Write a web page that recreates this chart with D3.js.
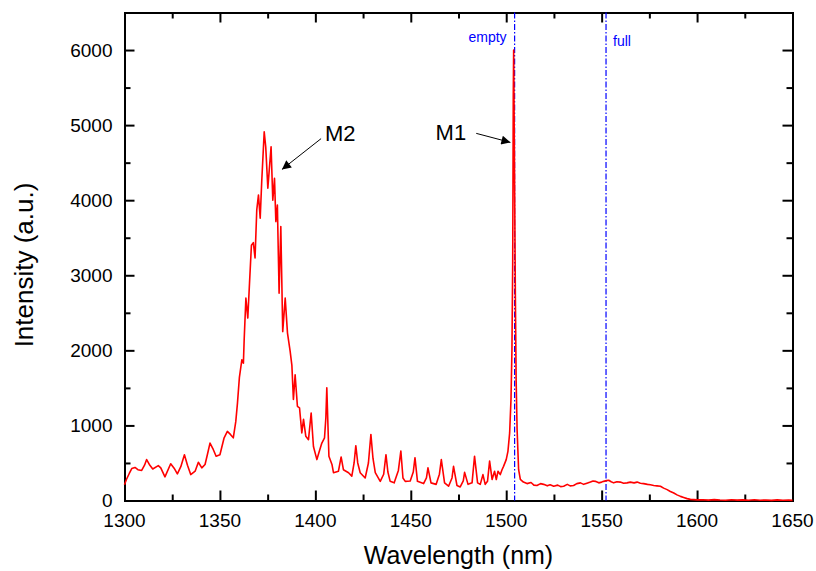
<!DOCTYPE html>
<html>
<head>
<meta charset="utf-8">
<script src="https://cdn.jsdelivr.net/npm/d3@7"></script>
<style>
  body { margin: 0; background: #fff; }
  svg { display: block; font-family: "Liberation Sans", Arial, sans-serif; }
</style>
</head>
<body>
<div id="chart"></div>
<script>
var wavelength = [
  1300, 1301, 1302.5, 1303.8, 1305.5, 1307, 1309, 1310.5, 1311.6, 1313, 1314.8, 1317.7, 1319,
  1321.2, 1324.2, 1326, 1327.7, 1329.5, 1331.4, 1333, 1334.7, 1337, 1338.7, 1340.5, 1342.2,
  1343.5, 1344.8, 1346.5, 1348, 1350, 1352.2, 1353.9, 1355.5, 1357, 1358.3, 1359.2, 1360.2,
  1361.5, 1362.3, 1362.7, 1363.6, 1364.6, 1365.5, 1366.5, 1367.5, 1368.4, 1369.3, 1370.2,
  1371.1, 1371.9, 1373.2, 1374, 1375.1, 1376.8, 1377.7, 1378.6, 1379.3, 1380.1, 1381, 1381.9,
  1382.9, 1384.2, 1385.4, 1386.8, 1387.7, 1388.5, 1389.4, 1390.6, 1391.7, 1392.9, 1393.8,
  1395, 1396.4, 1397.8, 1399, 1400.8, 1402, 1403.4, 1404.8, 1405.5, 1406, 1406.6, 1407.1,
  1408.7, 1409.5, 1412.1, 1413.5, 1414.7, 1417.4, 1419.1, 1420.3, 1421.2, 1422.2, 1423.5,
  1426.1, 1427.8, 1429.1, 1430.2, 1431.4, 1434, 1435.8, 1437, 1438, 1439.2, 1441.3, 1443.5,
  1444.8, 1445.9, 1447.1, 1449.7, 1451.3, 1452.2, 1453.5, 1456.7, 1458.2, 1459, 1460.6,
  1463.3, 1465, 1466, 1467.7, 1469.8, 1471.6, 1472.4, 1474.2, 1475.9, 1477.5, 1478.2, 1480,
  1482.1, 1483.4, 1485, 1486.4, 1487.8, 1489, 1490.2, 1491.3, 1492.6, 1493.9, 1494.8, 1495.7,
  1496.9, 1497.8, 1498.6, 1500, 1500.9, 1501.8, 1502.5, 1503, 1503.4, 1503.7, 1503.9, 1504.2,
  1504.8, 1505.2, 1505.7, 1506.5, 1507.4, 1509, 1510.9, 1513, 1514.5, 1516.1, 1518, 1519.6,
  1521.5, 1523, 1524.9, 1527, 1528.5, 1530.1, 1532, 1533.5, 1535.3, 1537, 1538.9, 1540.6,
  1542.3, 1544.1, 1545.5, 1546.7, 1548.5, 1550, 1551.1, 1552.5, 1553.7, 1555, 1556.3, 1558,
  1559.8, 1561.5, 1563.3, 1565, 1567, 1568.6, 1570.3, 1572, 1574, 1575.5, 1577.3, 1579,
  1580.8, 1582.5, 1584.3, 1586, 1587.8, 1589.5, 1591.3, 1593, 1594.8, 1596.5, 1598.3, 1600,
  1603, 1606, 1609, 1612, 1615, 1618, 1621, 1624, 1627, 1630, 1633, 1636, 1639, 1642, 1645,
  1648, 1650
];

var intensity = [
  210, 280, 360, 425, 440, 410, 400, 470, 545, 480, 420, 465, 435,
  315, 490, 430, 355, 450, 610, 470, 345, 390, 510, 435, 480,
  620, 765, 680, 590, 610, 835, 920, 880, 835, 1050, 1300, 1640,
  1875, 1830, 2140, 2695, 2430, 2895, 3400, 3435, 3230, 3870, 4070,
  3760, 4250, 4910, 4710, 4160, 4710, 4000, 4290, 3715, 3935, 2760, 3650,
  2250, 2695, 2230, 1985, 1800, 1345, 1675, 1255, 1235, 900, 1080,
  855, 810, 1165, 720, 545, 650, 765, 835, 1100, 1500, 1000, 590,
  480, 370, 390, 580, 410, 370, 325, 500, 730, 500, 370,
  300, 500, 880, 560, 370, 255, 350, 610, 380, 255, 235, 400,
  660, 300, 255, 260, 380, 570, 255, 225, 300, 435, 235,
  215, 350, 545, 235, 190, 300, 455, 200, 180, 260, 375, 215,
  235, 590, 235, 215, 345, 215, 255, 525, 280, 390, 280, 390,
  345, 410, 455, 545, 655, 900, 1345, 2000, 3165, 5375, 6000, 4935,
  2715, 1600, 945, 410, 280, 245, 225, 240, 205, 200, 225, 215,
  195, 210, 190, 205, 185, 190, 215, 195, 200, 225, 235, 215,
  230, 245, 260, 255, 235, 245, 255, 265, 270, 250, 235, 250,
  245, 230, 235, 245, 235, 245, 230, 225, 215, 210, 200, 195,
  190, 165, 145, 120, 100, 75, 55, 40, 25, 15, 12, 8,
  10, 5, 12, 6, 3, 10, 5, 8, 3, 9, 4, 6, 2, 8, 3,
  5, 2
];

var xTicks = [1300, 1350, 1400, 1450, 1500, 1550, 1600, 1650];
var yTicks = [0, 1000, 2000, 3000, 4000, 5000, 6000];
var markerNames = ["empty", "full"];
var markerWavelengths = [1504.4, 1552.3];

var margin = { top: 12.5, right: 23.5, bottom: 70.5, left: 124.5 },
    width = 816 - margin.left - margin.right,
    height = 571 - margin.top - margin.bottom;

var svg = d3.select("#chart").append("svg")
    .attr("width", 816)
    .attr("height", 571);

svg.append("defs").append("marker")
    .attr("id", "head")
    .attr("viewBox", "0 0 10 10")
    .attr("refX", 10)
    .attr("refY", 5)
    .attr("markerWidth", 16)
    .attr("markerHeight", 9)
    .attr("markerUnits", "userSpaceOnUse")
    .attr("orient", "auto")
  .append("path")
    .attr("d", "M0,0L10,5L0,10z")
    .attr("fill", "#000");

var g = svg.append("g")
    .attr("transform", "translate(" + margin.left + "," + margin.top + ")");

var x = d3.scaleLinear().domain([1300, 1650]).range([0, width]);
var y = d3.scaleLinear().domain([0, 6500]).range([height, 0]);

function minor (ticks, step) {
  var out = [];
  for (var i = 0; i < ticks.length - 1; i++) out.push(ticks[i] + step);
  return out;
}

// major + minor ticks on all four sides, pointing in
function axisTicks (axisFn, scale, major, minorVals, sel) {
  sel.call(axisFn(scale).tickValues(minorVals).tickSize(-6).tickFormat(""));
  sel.append("g").call(axisFn(scale).tickValues(major).tickSize(-10).tickFormat(""));
}

var yMinor = minor(yTicks, 500);

axisTicks(d3.axisBottom, x, xTicks, minor(xTicks, 25),
  g.append("g").attr("class", "ax").attr("transform", "translate(0," + height + ")"));
axisTicks(d3.axisTop, x, xTicks, minor(xTicks, 25),
  g.append("g").attr("class", "ax"));
axisTicks(d3.axisLeft, y, yTicks, yMinor, g.append("g").attr("class", "ax"));
axisTicks(d3.axisRight, y, yTicks, yMinor,
  g.append("g").attr("class", "ax").attr("transform", "translate(" + width + ",0)"));

g.selectAll(".ax path.domain").attr("stroke", "#000").attr("stroke-width", 2);
g.selectAll(".ax line").attr("stroke", "#000").attr("stroke-width", 2);

g.selectAll(".xlab")
    .data(xTicks)
  .enter().append("text")
    .attr("x", function(d) { return x(d); })
    .attr("y", height + 26)
    .attr("text-anchor", "middle")
    .attr("font-size", 19)
    .text(function(d) { return d; });

g.selectAll(".ylab")
    .data(yTicks)
  .enter().append("text")
    .attr("x", -12)
    .attr("y", function(d) { return y(d); })
    .attr("dy", "0.35em")
    .attr("text-anchor", "end")
    .attr("font-size", 19)
    .text(function(d) { return d; });

svg.append("text")
    .attr("x", margin.left + width / 2)
    .attr("y", 564)
    .attr("text-anchor", "middle")
    .attr("font-size", 25)
    .text("Wavelength (nm)");

svg.append("text")
    .attr("transform", "translate(33,265) rotate(-90)")
    .attr("text-anchor", "middle")
    .attr("font-size", 26)
    .text("Intensity (a.u.)");

// marker lines
g.selectAll(".mark")
    .data(markerWavelengths)
  .enter().append("line")
    .attr("x1", function(d) { return x(d); })
    .attr("x2", function(d) { return x(d); })
    .attr("y1", 0)
    .attr("y2", height)
    .attr("stroke", "#0000ff")
    .attr("stroke-width", 1.2)
    .attr("stroke-dasharray", "6,2,1.5,2");

g.append("text")
    .attr("x", x(markerWavelengths[0]) - 8)
    .attr("y", 29)
    .attr("text-anchor", "end")
    .attr("font-size", 14)
    .attr("fill", "#0000ff")
    .text(markerNames[0]);

g.append("text")
    .attr("x", x(markerWavelengths[1]) + 7)
    .attr("y", 33)
    .attr("text-anchor", "start")
    .attr("font-size", 14)
    .attr("fill", "#0000ff")
    .text(markerNames[1]);

var line = d3.line()
    .x(function(d) { return x(d[0]); })
    .y(function(d) { return y(d[1]); });

g.append("path")
    .datum(d3.zip(wavelength, intensity))
    .attr("fill", "none")
    .attr("stroke", "#ff0000")
    .attr("stroke-width", 1.6)
    .attr("stroke-linejoin", "round")
    .attr("d", line);

// peak labels
g.append("text")
    .attr("x", x(1405))
    .attr("y", y(4790))
    .attr("font-size", 22)
    .text("M2");

g.append("line")
    .attr("x1", x(1403))
    .attr("y1", y(4820))
    .attr("x2", x(1382.5))
    .attr("y2", y(4410))
    .attr("stroke", "#000")
    .attr("stroke-width", 1)
    .attr("marker-end", "url(#head)");

g.append("text")
    .attr("x", x(1463))
    .attr("y", y(4800))
    .attr("font-size", 22)
    .text("M1");

g.append("line")
    .attr("x1", x(1484.3))
    .attr("y1", y(4890))
    .attr("x2", x(1502.2))
    .attr("y2", y(4770))
    .attr("stroke", "#000")
    .attr("stroke-width", 1)
    .attr("marker-end", "url(#head)");
</script>
</body>
</html>
